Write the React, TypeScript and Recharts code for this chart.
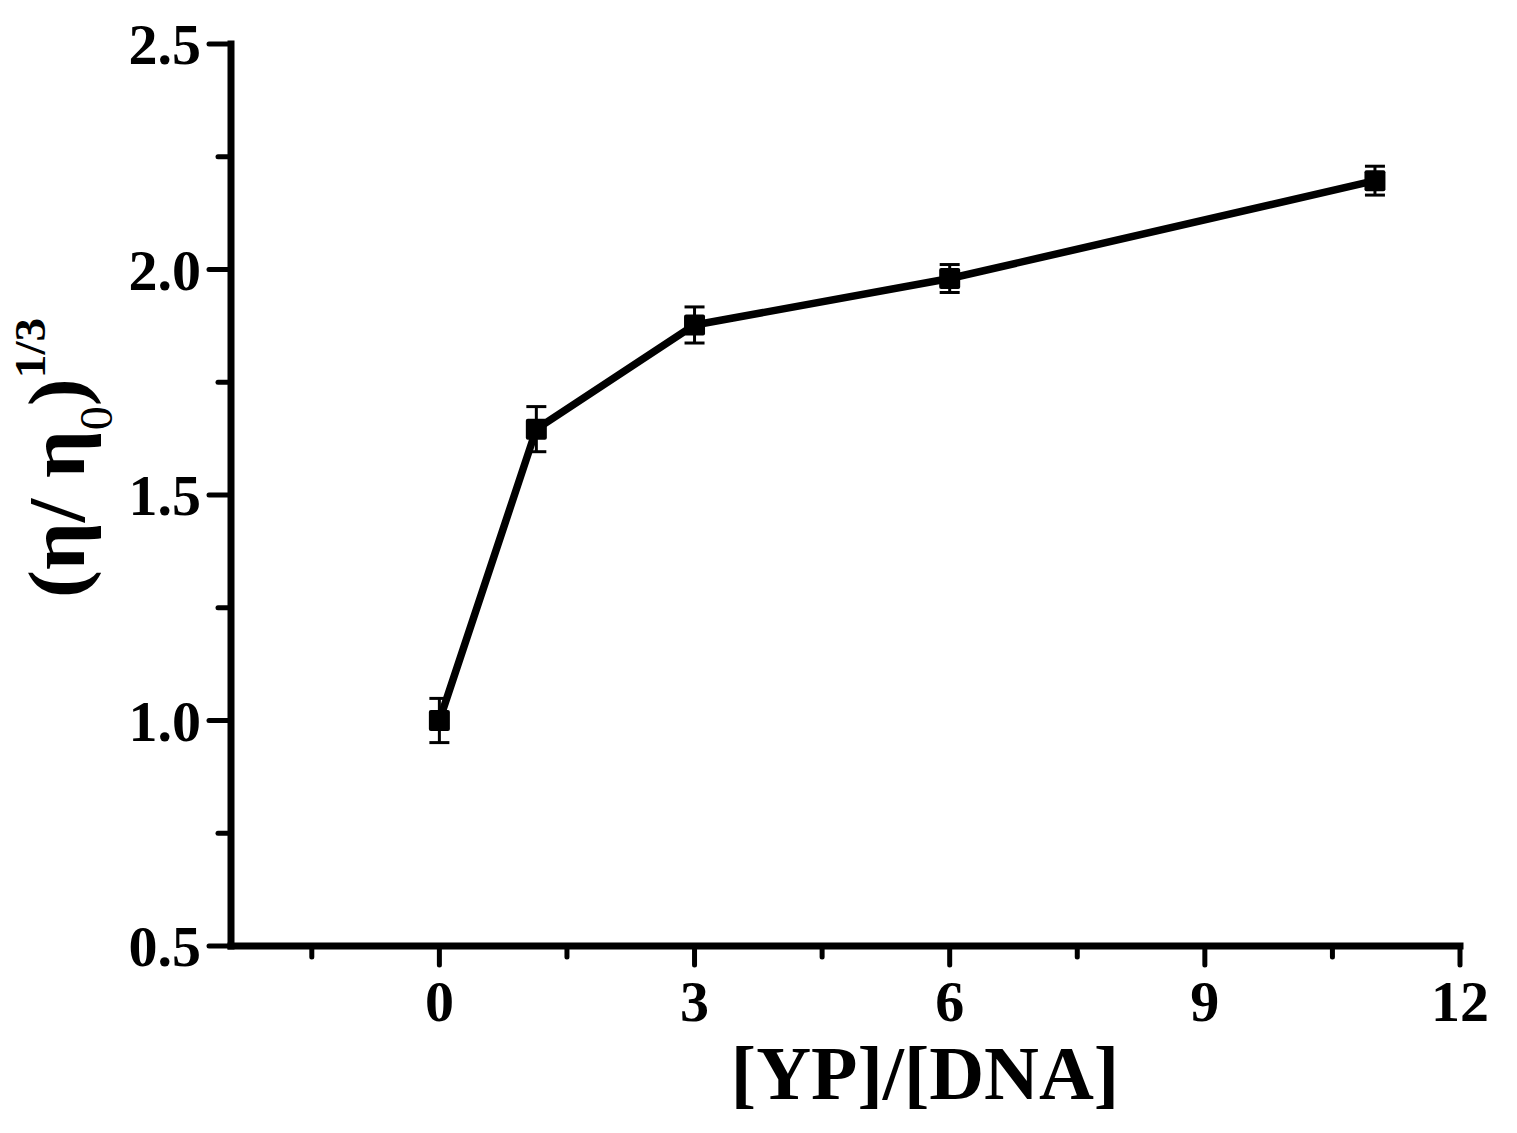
import React from "react";
import { ComposedChart, Line, XAxis, YAxis, ErrorBar, Label } from "recharts";

const ratios = [0, 1.14, 3, 6, 11];
const viscosity = [1.0, 1.646, 1.877, 1.98, 2.197];
const errors = [0.049, 0.05, 0.04, 0.031, 0.032];
const xMajorTicks = [0, 3, 6, 9, 12];
const xMinorTicks = [-1.5, 1.5, 4.5, 7.5, 10.5];
const yMajorTicks = [0.5, 1.0, 1.5, 2.0, 2.5];
const yMinorTicks = [0.75, 1.25, 1.75, 2.25];

const data = ratios.map((r, i) => ({ x: r, y: viscosity[i], err: errors[i] }));

const FONT = "'Liberation Serif', 'Times New Roman', serif";

const XTick = (props: any) => {
  const { x, y, payload } = props;
  const v = payload.value;
  const major = xMajorTicks.includes(v);
  return (
    <g>
      <line x1={x} x2={x} y1={y} y2={y + (major ? 19 : 11)} stroke="#000" strokeWidth={5} strokeLinecap="round" />
      {major && (
        <text x={x} y={y + 75} textAnchor="middle" fontFamily={FONT} fontWeight="bold" fontSize={58} fill="#000">
          {v}
        </text>
      )}
    </g>
  );
};

const YTick = (props: any) => {
  const { x, y, payload } = props;
  const v = payload.value;
  const major = yMajorTicks.includes(v);
  return (
    <g>
      <line x1={x} x2={x - (major ? 22 : 13)} y1={y} y2={y} stroke="#000" strokeWidth={5} strokeLinecap="round" />
      {major && (
        <text x={x - 30} y={y} dy="0.35em" textAnchor="end" fontFamily={FONT} fontWeight="bold" fontSize={58} fill="#000">
          {v.toFixed(1)}
        </text>
      )}
    </g>
  );
};

const SquareDot = (props: any) => {
  const { cx, cy } = props;
  if (cx == null || cy == null) return null;
  return <rect x={cx - 10.5} y={cy - 10.5} width={21} height={21} rx={2} fill="#000" />;
};

const XTitle = () => (
  <text x={925} y={1099} textAnchor="middle" fontFamily={FONT} fontWeight="bold" fontSize={76} fill="#000">
    [YP]/[DNA]
  </text>
);

const YTitle = () => (
  <text transform="translate(84,598) rotate(-90) scale(1.05,1)" fontFamily={FONT} fontWeight="bold" fontSize={80} fill="#000">
    <tspan>(η/ η</tspan>
    <tspan fontSize={46} fontWeight="normal" dy={28}>0</tspan>
    <tspan fontSize={80} dy={-28}>)</tspan>
    <tspan fontSize={45} dy={-39}>1/3</tspan>
  </text>
);

export default function App() {
  return (
    <div style={{ position: "absolute", left: 0, top: 0, background: "#fff" }}>
      <ComposedChart
        width={1517}
        height={1133}
        data={data}
        margin={{ top: 44, right: 57, bottom: 37, left: 31 }}
      >
        <XAxis
          dataKey="x"
          type="number"
          domain={[-2.45, 12]}
          allowDataOverflow
          ticks={[...xMinorTicks, ...xMajorTicks].sort((a, b) => a - b)}
          interval={0}
          height={150}
          tickSize={0}
          tickMargin={0}
          tickLine={false}
          tick={<XTick />}
          axisLine={{ stroke: "#000", strokeWidth: 7, strokeLinecap: "square" }}
        >
          <Label content={<XTitle />} />
        </XAxis>
        <YAxis
          type="number"
          domain={[0.5, 2.5]}
          allowDataOverflow
          ticks={[...yMajorTicks, ...yMinorTicks].sort((a, b) => a - b)}
          interval={0}
          width={200}
          tickSize={0}
          tickMargin={0}
          tickLine={false}
          tick={<YTick />}
          axisLine={{ stroke: "#000", strokeWidth: 7, strokeLinecap: "square" }}
        >
          <Label content={<YTitle />} />
        </YAxis>
        <Line
          dataKey="y"
          type="linear"
          stroke="#000"
          strokeWidth={7.5}
          strokeLinejoin="round"
          strokeLinecap="round"
          dot={<SquareDot />}
          activeDot={false}
          isAnimationActive={false}
        >
          <ErrorBar dataKey="err" direction="y" width={10} stroke="#000" strokeWidth={3} isAnimationActive={false} />
        </Line>
      </ComposedChart>
    </div>
  );
}
